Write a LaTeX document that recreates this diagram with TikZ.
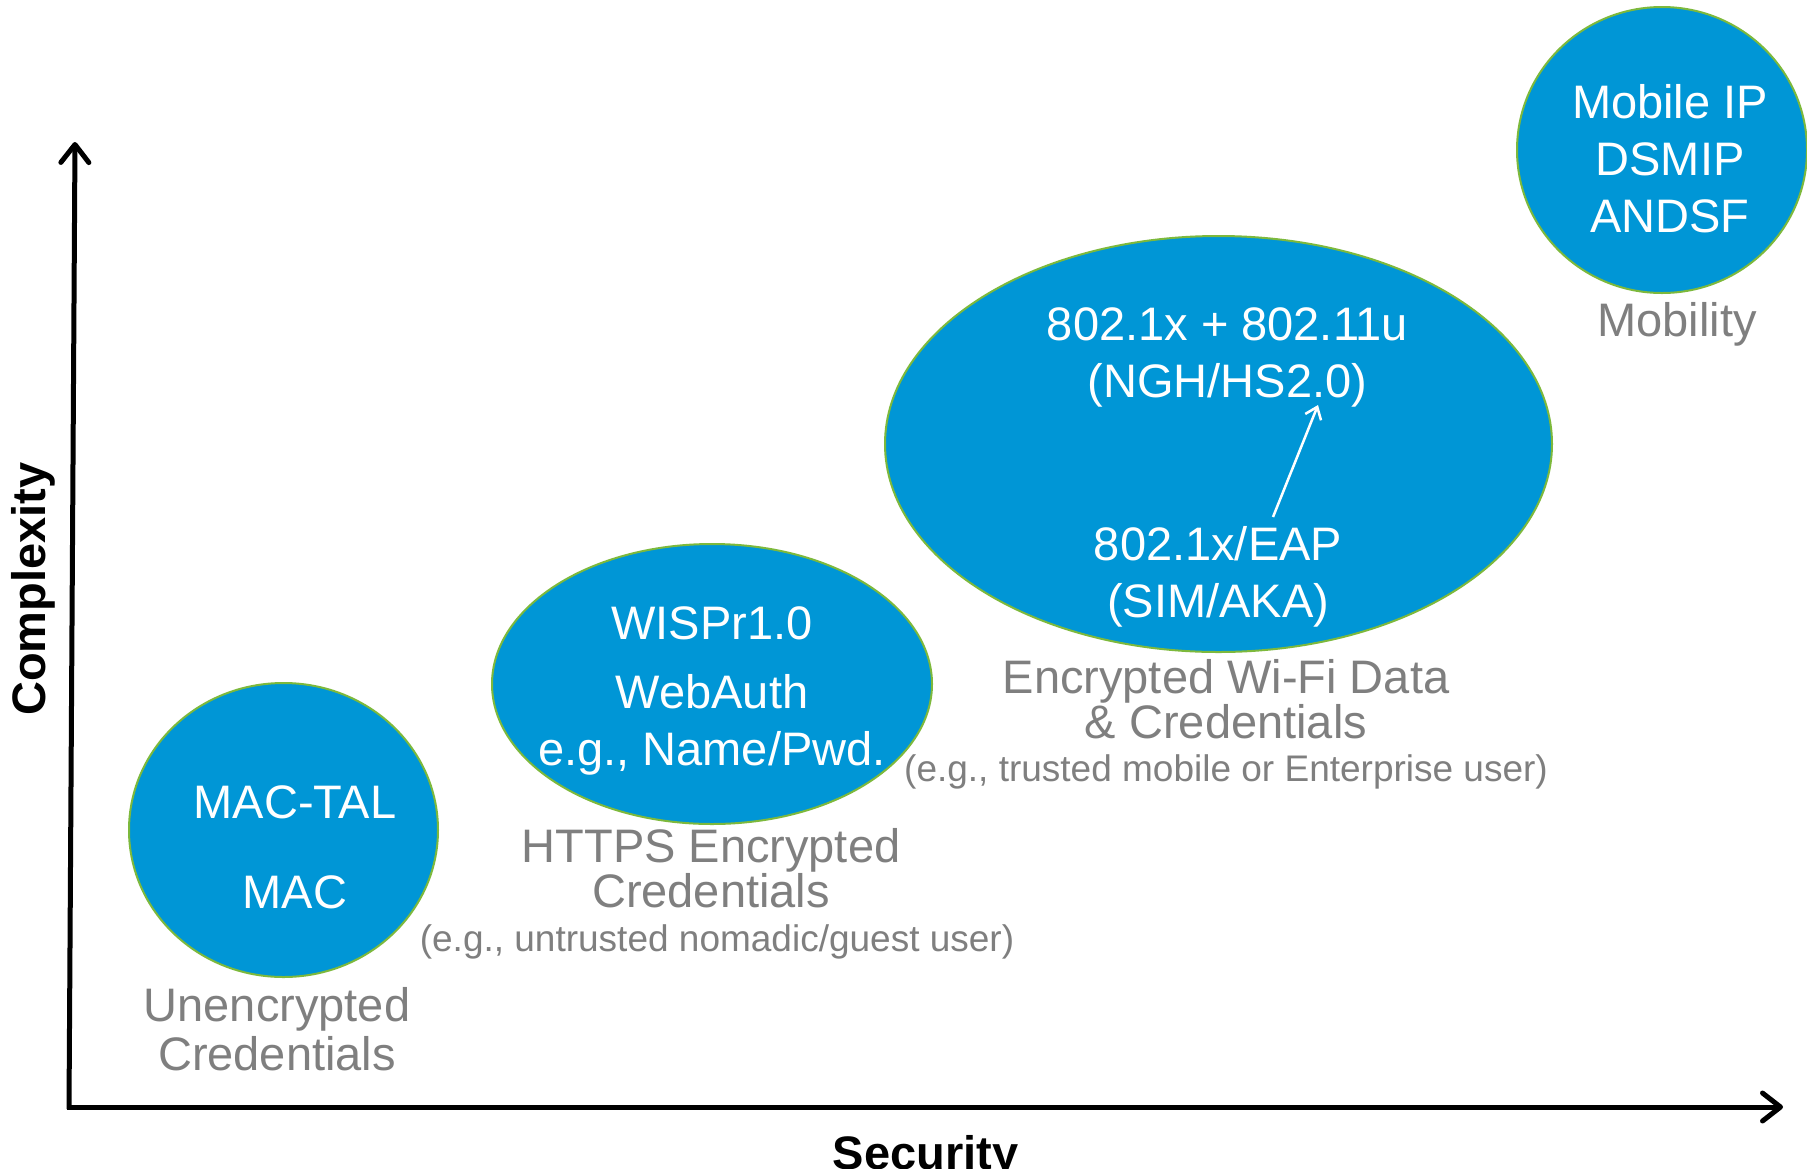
\documentclass[tikz,border=0pt]{standalone}
\usepackage{fontspec}
\setmainfont{Liberation Sans}
\usetikzlibrary{shapes.geometric,arrows.meta}
\definecolor{bubbleblue}{RGB}{0,150,214}
\definecolor{bubbleedge}{RGB}{125,185,60}
\definecolor{captiongray}{RGB}{127,127,127}

\begin{document}
\begin{tikzpicture}[x=1pt,y=-1pt,
  bubble/.style={ellipse, fill=bubbleblue, draw=bubbleedge, line width=2pt, inner sep=0pt},
  % multi-line nodes are placed by the baseline of their last line
  intext/.style={text=white, inner sep=0pt, anchor=base, align=center,
                 font=\fontsize{47}{57}\selectfont},
  caption/.style={text=captiongray, inner sep=0pt, anchor=base, align=center,
                  font=\fontsize{47}{43}\selectfont},
  note/.style={text=captiongray, inner sep=0pt, anchor=base,
               font=\fontsize{37}{44}\selectfont},
  axislabel/.style={inner sep=0pt, anchor=base,
                    font=\fontsize{47}{56}\selectfont\bfseries},
  axis/.style={line width=5pt,
               -{Straight Barb[length=18pt,width=28pt,round]}},
]
% canvas
\fill[white] (0,0) rectangle (1807,1168);
\useasboundingbox (0,0) rectangle (1807,1168);

% axes
\coordinate (origin) at (69,1109);
\coordinate (ymax) at (75,142);
\coordinate (xstart) at (67,1107);
\coordinate (xmax) at (1783,1107);
\draw[axis] (origin) -- (ymax);
\draw[axis] (xstart) -- (xmax);
\node[axislabel, rotate=90] (ylbl) at (45,589) {Complexity};
\node[axislabel] (xlbl) at (925.5,1169) {Security};

% bubbles
\node[bubble, minimum width=309pt, minimum height=294pt] (macb) at (283.5,830) {};
\node[bubble, minimum width=440pt, minimum height=280pt] (webb) at (712,684) {};
\node[bubble, minimum width=667pt, minimum height=416pt] (eapb) at (1218.5,444) {};
\node[bubble, minimum width=290pt, minimum height=286pt] (mobb) at (1662,150) {};

% texts inside the bubbles
\node[intext] (mactxt) at (295,908.5) {MAC-TAL\\[33pt]MAC};
\node[intext] (webtxt) at (712,765) {WISPr1.0\\[12pt]WebAuth\\e.g., Name/Pwd.};
\node[intext] (hstxt) at (1227.5,397) {802.1x + 802.11u\\(NGH/HS2.0)};
\node[intext] (eaptxt) at (1218,617) {802.1x/EAP\\(SIM/AKA)};
\node[intext] (mobtxt) at (1670,232) {Mobile IP\\DSMIP\\ANDSF};

% upgrade path from EAP to Hotspot 2.0
\coordinate (upFrom) at (1273,517);
\coordinate (upTo) at (1318,405);
\draw[white, line width=2.5pt, -{Straight Barb[length=11pt,width=17pt]}] (upFrom) -- (upTo);

% captions below the bubbles
\node[caption] (unenc) at (277,1070) {Unencrypted\\[4pt]Credentials};
\node[caption] (httpslbl) at (711,907) {HTTPS Encrypted\\Credentials};
\node[note] (httpsnote) at (717,951) {(e.g., untrusted nomadic/guest user)};
\node[caption] (enclbl) at (1226,738) {Encrypted Wi-Fi Data\\\& Credentials};
\node[note] (encnote) at (1226,781) {(e.g., trusted mobile or Enterprise user)};
\node[caption] (moblbl) at (1677,336) {Mobility};
\end{tikzpicture}
\end{document}
